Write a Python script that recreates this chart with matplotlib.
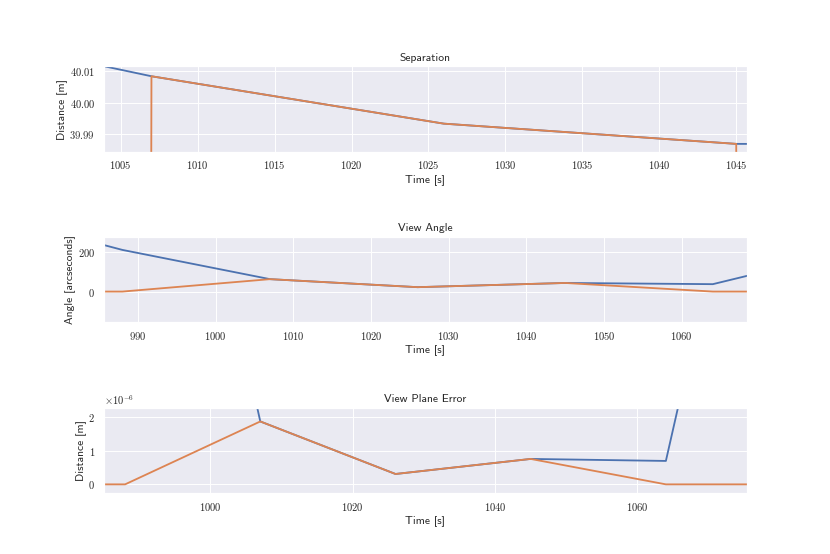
import matplotlib
matplotlib.use('Agg')
import matplotlib.pyplot as plt
import matplotlib.ticker as mticker
import seaborn as sns

# sample times [s]
t = [969, 988, 1007, 1026, 1045, 1064, 1083]

# separation [m]
sep_a = [40.048, 40.028, 40.0084, 39.9934, 39.987, 39.9868, 39.9868]
sep_b = [0, 0, 40.0084, 39.9934, 39.987, 0, 0]

# view angle [arcseconds]
ang_a = [402, 208, 62, 22, 43, 37, 216]
ang_b = [0, 0, 62, 22, 43, 0, 0]

# view plane error [m]
err_a = [40e-6, 20e-6, 1.88e-6, 0.31e-6, 0.76e-6, 0.70e-6, 18.5e-6]
err_b = [0, 0, 1.88e-6, 0.31e-6, 0.76e-6, 0, 0]

sns.set_theme()
plt.rcParams['font.family'] = ['cmss10', 'DejaVu Sans']
plt.rcParams['mathtext.fontset'] = 'cm'
plt.rcParams['axes.unicode_minus'] = False
plt.rcParams['lines.linewidth'] = 1.9
plt.rcParams['xtick.major.pad'] = 2
plt.rcParams['ytick.major.pad'] = 3
plt.rcParams['axes.labelpad'] = 2.5

fig, axs = plt.subplots(3, 1, figsize=(12, 8.01))
fig.subplots_adjust(hspace=1.0)

def tex(fmt, scale=1.0):
    return mticker.FuncFormatter(lambda v, p: '$' + fmt.format(v * scale) + '$')

ax = axs[0]
ax.plot(t, sep_a)
ax.plot(t, sep_b)
ax.set_title('Separation')
ax.set_xlabel('Time [s]')
ax.set_ylabel('Distance [m]')
ax.set_xlim(1003.9, 1045.7)
ax.set_ylim(39.9845, 40.0115)
ax.xaxis.set_major_locator(mticker.MultipleLocator(5))
ax.yaxis.set_major_locator(mticker.MultipleLocator(0.01))
ax.xaxis.set_major_formatter(tex('{:.0f}'))
ax.yaxis.set_major_formatter(tex('{:.2f}'))

ax = axs[1]
ax.plot(t, ang_a)
ax.plot(t, ang_b)
ax.set_title('View Angle')
ax.set_xlabel('Time [s]')
ax.set_ylabel('Angle [arcseconds]')
ax.set_xlim(985.6, 1068.4)
ax.set_ylim(-154, 272)
ax.xaxis.set_major_locator(mticker.MultipleLocator(10))
ax.yaxis.set_major_locator(mticker.MultipleLocator(200))
ax.xaxis.set_major_formatter(tex('{:.0f}'))
ax.yaxis.set_major_formatter(tex('{:.0f}'))

ax = axs[2]
ax.plot(t, err_a)
ax.plot(t, err_b)
ax.set_title('View Plane Error')
ax.set_xlabel('Time [s]')
ax.set_ylabel('Distance [m]')
ax.set_xlim(985.0, 1075.4)
ax.set_ylim(-0.26e-6, 2.29e-6)
ax.xaxis.set_major_locator(mticker.MultipleLocator(20))
ax.yaxis.set_major_locator(mticker.MultipleLocator(1e-6))
ax.xaxis.set_major_formatter(tex('{:.0f}'))
ax.yaxis.set_major_formatter(tex('{:.0f}', 1e6))
ax.text(0, 1.01, r'$\times10^{-6}$', transform=ax.transAxes,
        ha='left', va='bottom', fontsize=11)

fig.savefig('out.png', dpi=830 / 12)
